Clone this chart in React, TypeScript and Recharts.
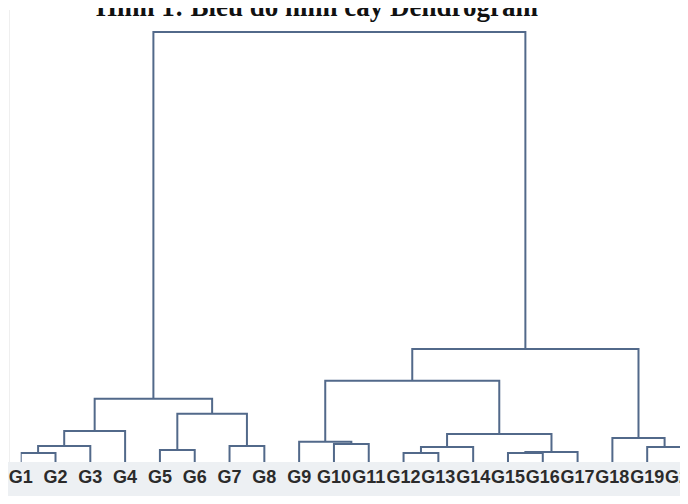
import React from "react";
import { LineChart, Line, XAxis, YAxis } from "recharts";

// nhãn lá (các nhóm)
const LEAVES = [
    "G1", "G2", "G3", "G4", "G5", "G6", "G7", "G8", "G9", "G10",
    "G11", "G12", "G13", "G14", "G15", "G16", "G17", "G18", "G19", "G20"
];

// các lần gộp: [nút trái, nút phải, khoảng cách]; chỉ số >= 20 là cụm đã gộp trước đó
const MERGES: [number, number, number][] = [
    [0, 1, 2.1],     // 20
    [20, 2, 3.7],    // 21
    [21, 3, 7.2],    // 22
    [4, 5, 2.8],     // 23
    [6, 7, 3.7],     // 24
    [23, 24, 11.2],  // 25
    [22, 25, 14.7],  // 26
    [9, 10, 4.2],    // 27
    [8, 27, 4.7],    // 28
    [11, 12, 2.1],   // 29
    [29, 13, 3.5],   // 30
    [14, 15, 2.1],   // 31
    [31, 16, 2.3],   // 32
    [30, 32, 6.5],   // 33
    [28, 33, 18.9],  // 34
    [18, 19, 3.5],   // 35
    [17, 35, 5.6],   // 36
    [34, 36, 26.3],  // 37
    [26, 37, 100],   // 38
];

const LINE_COLOR = "#52698a";

// tính vị trí từng nút rồi dựng các đoạn nối hình chữ U
const nodeX: number[] = LEAVES.map((_, i) => i);
const nodeH: number[] = LEAVES.map(() => 0);
const links = MERGES.map(([a, b, h]) => {
    nodeX.push((nodeX[a] + nodeX[b]) / 2);
    nodeH.push(h);
    return [
        { x: nodeX[a], y: nodeH[a] },
        { x: nodeX[a], y: h },
        { x: nodeX[b], y: h },
        { x: nodeX[b], y: nodeH[b] },
    ];
});

export default function App() {
    return (
        <div
            style={{
                position: "relative",
                width: 688,
                height: 504,
                margin: -8,
                overflow: "hidden",
                background: "linear-gradient(to bottom, #ffffff 462px, #edf0f3 462px)",
            }}
        >
            <div
                style={{
                    position: "absolute",
                    left: 96,
                    top: -6,
                    fontFamily: "'Liberation Serif', 'Times New Roman', serif",
                    fontWeight: 700,
                    fontSize: 27,
                    lineHeight: "27px",
                    whiteSpace: "nowrap",
                    color: "#111",
                }}
            >
                Hình 1: Biểu đồ hình cây Dendrogram
            </div>
            <div style={{ position: "absolute", left: 9, top: 10, width: 1, height: 452, background: "#efefef" }} />

            <LineChart width={688} height={504} margin={{ top: 32, right: 6, left: 20.7, bottom: 12 }}>
                <XAxis
                    type="number"
                    dataKey="x"
                    domain={[0, LEAVES.length - 1]}
                    ticks={LEAVES.map((_, i) => i)}
                    interval={0}
                    tickFormatter={(i: number) => LEAVES[i]}
                    axisLine={false}
                    tickLine={false}
                    allowDataOverflow
                    tick={{ fill: "#2b2b2b", fontSize: 18, fontWeight: 700, fontFamily: "'Liberation Sans', Arial, sans-serif" }}
                />
                <YAxis type="number" dataKey="y" domain={[0, 100]} hide />
                {links.map((pts, i) => (
                    <Line
                        key={i}
                        data={pts}
                        dataKey="y"
                        type="linear"
                        stroke={LINE_COLOR}
                        strokeWidth={2}
                        dot={false}
                        activeDot={false}
                        isAnimationActive={false}
                    />
                ))}
            </LineChart>
        </div>
    );
}
